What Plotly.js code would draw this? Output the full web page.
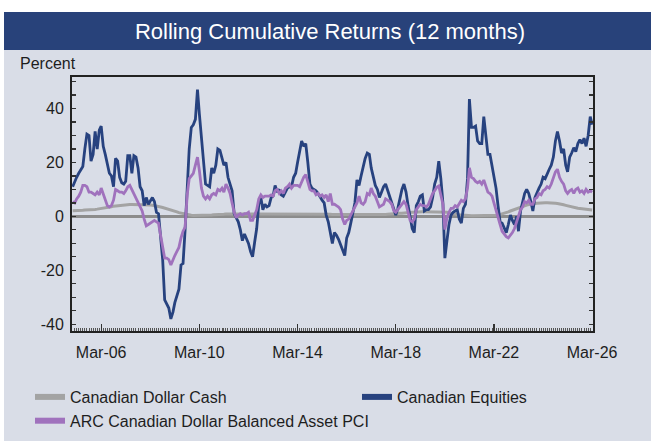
<!DOCTYPE html>
<html><head><meta charset="utf-8">
<script src="https://cdn.plot.ly/plotly-3.0.1.min.js"></script>
<style>html,body{margin:0;padding:0;background:#fff;}#chart{width:651px;height:441px;}</style>
</head><body><div id="chart"></div>
<script>
// Monthly observations, first value = Jan 2005, last = Mar 2026
const firstYear = 2005;
const seriesNames = ["Canadian Dollar Cash", "Canadian Equities", "ARC Canadian Dollar Balanced Asset PCI"];
const seriesColors = ["#a3a3a3", "#27427f", "#a072bd"];
const titleText = "Rolling Cumulative Returns (12 months)";
const yAxisLabel = "Percent";
const yTickValues = [-40, -20, 0, 20, 40];
const yTickLabels = ["-40", "-20", "0", "20", "40"];

const equities = [
  11, 13, 14.5, 16, 17.5, 18.5, 25, 30.5, 30, 20.5, 23, 31.5,
  25, 32, 33.5, 26, 23, 19, 16, 15, 11, 21.5, 20.5, 14.5,
  12.5, 12, 13, 22.5, 22.5, 16, 22.5, 22, 18, 11, 9.5, 4,
  7, 4.5, 6, 7, 5.5, 1.5, 1, -8, -16, -31, -32.5, -34,
  -38, -35.5, -32, -29, -27, -18, -17.5, -5, 10, 25, 33, 34,
  36, 47, 38, 29, 18, 12, 11.5, 11, 18, 16, 19, 25,
  24.5, 21, 19, 20, 14.5, 12, 9.5, 1, -0.5, -2, -5, -9,
  -6.5, -8.5, -10, -13, -15, -9.5, -4.5, 4.5, 7, 2.5, 4.5, 3.5,
  4, 7, 7.5, 11.5, 9, 10, 8, 7.5, 9, 10.5, 11, 11,
  14.5, 16, 20, 24, 28, 26, 27, 20, 12, 10.5, 10, 9.5,
  8.5, 7, 6, 5, 0.5, -2, -6, -10, -6, -7, -8.5, -10.5,
  -12, -14.5, -8, -6, -2.5, 1, 5, 13.5, 11.5, 15, 19, 21.5,
  23.5, 23, 18, 14, 11.5, 10, 7, 9, 11, 12, 9.5, 8,
  5, 2.5, 0.5, 3, 7, 10, 12, 9, 4, -1, -4.5, -6,
  4, 5.5, 7.5, 8, 2, 2.5, 2.5, 3.5, 7, 12, 14.5, 20.5,
  14, 5, -15.5, -9, -3, 0.5, 1.5, 2, 2.5, -1, -2.5, 3,
  4.5, 14, 43.5, 33, 33, 33.5, 28, 27, 27, 37, 29, 23,
  23, 19, 15, 10.5, 4, -2, -2.5, -4.5, -6, -3, 0.5, -1.5,
  -3, 0, -5.5, 2, 5, 8.5, 10, 8.5, 5.5, 2, 7, 9,
  10.5, 12, 14.5, 14, 16, 17.5, 19, 22, 28, 31.5, 28, 23.5,
  25, 19, 16.5, 22, 23.5, 25.5, 24, 27, 28.5, 27, 29, 26,
  30, 37, 34
];

const balanced = [
  5.5, 5, 6.5, 7.5, 9, 11.5, 11.5, 11, 9, 9, 8.5, 8,
  9, 8, 10.5, 8, 6, 4, 3.5, 4, 6, 10, 9.5, 9,
  9, 8.5, 9.5, 11, 11.5, 10, 8.5, 7, 5.5, 4, 2, -1,
  -3.5, -3, -2.5, -2, -1.5, -2, -2.5, -7, -12, -15.5, -15.5, -16,
  -18, -16, -14.5, -13, -11.5, -8, -5.5, -4, 8, 14, 15, 16,
  19, 22, 17, 10.5, 7.5, 6.5, 7.5, 6.5, 8, 8.5, 8, 10,
  9.5, 10.5, 9, 12, 10.5, 8.5, 5, 1.5, -0.5, 0.5, 1, 0.5,
  1, 1, 1.5, -1.5, -1.5, 0.5, 2.5, 6.5, 8, 7, 7.5, 7.5,
  7.5, 8, 7.5, 9.5, 10, 8.5, 9.5, 8.5, 10.5, 11, 12, 10.5,
  11.5, 11.5, 11.5, 11, 13, 14.5, 15.5, 13, 10, 9.5, 9.5, 8,
  8.5, 7.5, 8, 7, 8, 5.5, 8.5, 4.5, 4.5, 4, 3.5, 2.5,
  -1, -3, -1.5, -1, 0.5, 1.5, 3, 5, 7.5, 5, 4.5, 5.5,
  8.5, 8, 10.5, 8.5, 7.5, 5, 3.5, 4, 4.5, 6.5, 6, 5.5,
  4.5, 2, 1.5, 2.5, 3.5, 4.5, 5.5, 4.5, 1, -1.5, -2, -1,
  2.5, 3.5, 4.5, 4, 4, 3.5, 4.5, 6.5, 8.5, 9.5, 10.8, 11.3,
  8.2, 4.5, -4.9, -0.5, 1.5, 3, 3, 4, 3.5, 5, 6, 5.5,
  6.5, 10.5, 18, 14.5, 14, 13, 12.5, 13, 12, 13.5, 11, 9,
  8.5, 7.5, 5, 2, -1, -3, -5.5, -6.5, -7.5, -8, -7, -6,
  -4.5, -2, 0.5, 2.5, 3.5, 5.5, 5, 6, 4.5, 4.5, 6.5, 7,
  8.5, 8, 9.5, 10, 11, 10.5, 12, 14.5, 16.5, 17.5, 14.5, 13,
  12, 9.5, 8.5, 9.5, 10, 8.5, 10, 10.5, 9, 9.5, 8.5, 10,
  9, 9.5, 9
];

const cash = [
  2.1, 2.1, 2.2, 2.2, 2.3, 2.3, 2.4, 2.4, 2.5, 2.5, 2.6, 2.6,
  2.7, 2.8, 2.9, 3.0, 3.2, 3.3, 3.5, 3.6, 3.8, 3.9, 4.0, 4.1,
  4.2, 4.3, 4.3, 4.4, 4.4, 4.4, 4.4, 4.4, 4.4, 4.4, 4.4, 4.4,
  4.3, 4.3, 4.2, 4.1, 4.0, 3.9, 3.7, 3.5, 3.3, 3.1, 2.9, 2.7,
  2.5, 2.2, 2.0, 1.7, 1.4, 1.2, 1.0, 0.8, 0.6, 0.5, 0.4, 0.3,
  0.3, 0.3, 0.3, 0.3, 0.4, 0.4, 0.4, 0.5, 0.5, 0.6, 0.6, 0.7,
  0.7, 0.8, 0.8, 0.9, 0.9, 0.9, 1.0, 1.0, 1.0, 1.0, 1.0, 1.0,
  1.0, 1.0, 1.0, 1.0, 1.0, 1.0, 1.0, 1.0, 1.0, 1.0, 1.0, 1.0,
  1.0, 1.0, 1.0, 1.0, 1.0, 1.0, 1.0, 1.0, 1.0, 1.0, 1.0, 1.0,
  1.0, 1.0, 1.0, 1.0, 1.0, 1.0, 1.0, 1.0, 1.0, 1.0, 1.0, 1.0,
  1.0, 1.0, 0.9, 0.9, 0.9, 0.8, 0.8, 0.7, 0.7, 0.6, 0.6, 0.6,
  0.5, 0.5, 0.5, 0.5, 0.5, 0.5, 0.5, 0.5, 0.5, 0.5, 0.5, 0.5,
  0.5, 0.5, 0.5, 0.5, 0.5, 0.5, 0.6, 0.6, 0.7, 0.7, 0.8, 0.9,
  1.0, 1.0, 1.1, 1.1, 1.2, 1.2, 1.3, 1.3, 1.4, 1.4, 1.5, 1.5,
  1.6, 1.6, 1.6, 1.7, 1.7, 1.7, 1.7, 1.7, 1.7, 1.7, 1.7, 1.7,
  1.7, 1.7, 1.6, 1.5, 1.3, 1.1, 0.9, 0.8, 0.7, 0.6, 0.5, 0.4,
  0.3, 0.3, 0.2, 0.2, 0.2, 0.2, 0.2, 0.2, 0.2, 0.2, 0.2, 0.2,
  0.2, 0.2, 0.3, 0.4, 0.5, 0.7, 0.9, 1.1, 1.4, 1.7, 2.0, 2.3,
  2.6, 2.9, 3.2, 3.5, 3.8, 4.0, 4.2, 4.4, 4.6, 4.7, 4.8, 4.9,
  5.0, 5.0, 5.1, 5.1, 5.1, 5.1, 5.0, 5.0, 4.9, 4.8, 4.7, 4.5,
  4.3, 4.1, 3.9, 3.7, 3.5, 3.3, 3.1, 3.0, 2.9, 2.8, 2.7, 2.6,
  2.5, 2.5, 2.4
];

const dates = equities.map(function (_, i) {
  const y = firstYear + Math.floor(i / 12);
  const m = (i % 12) + 1;
  return y + "-" + (m < 10 ? "0" + m : m) + "-01";
});

// layout geometry (pixels)
const W = 651, H = 441;
const L = 72, R = 58, T = 77, B = 110;
const pw = W - L - R, ph = H - T - B;
function px(x) { return (x - L) / pw; }
function py(y) { return (H - B - y) / ph; }

const FONT = "Liberation Sans, Arial, sans-serif";
const TXT = "#1e1e1e";

const seriesData = [cash, equities, balanced];
const traces = [];
seriesData.forEach(function (vals, k) {
  traces.push({
    type: "scatter", mode: "lines", x: dates, y: vals, name: seriesNames[k],
    line: { color: seriesColors[k], width: k === 0 ? 3 : 2.8 },
    showlegend: false, hoverinfo: "x+y+name"
  });
});
// legend entries (thicker swatches)
[[0, "legend"], [2, "legend"], [1, "legend2"]].forEach(function (p) {
  traces.push({
    type: "scatter", mode: "lines", x: [null], y: [null], name: seriesNames[p[0]],
    line: { color: seriesColors[p[0]], width: 6 }, legend: p[1], showlegend: true, hoverinfo: "skip"
  });
});

const layout = {
  width: W, height: H,
  margin: { l: L, r: R, t: T, b: B, pad: 0, autoexpand: false },
  paper_bgcolor: "#d9dde7", plot_bgcolor: "#d9dde7",
  font: { family: FONT, size: 16, color: TXT },
  title: {
    text: titleText, font: { family: FONT, size: 22, color: "#ffffff" },
    xref: "container", x: 330 / W, xanchor: "center",
    yref: "container", y: 1 - 31 / H, yanchor: "middle"
  },
  xaxis: {
    type: "date", range: ["2004-12-22", "2026-03-14"],
    tick0: "2006-03-01", dtick: "M48", tickformat: "%b-%y",
    ticks: "inside", ticklen: 7, tickwidth: 1.2, tickcolor: "#333",
    minor: { dtick: "M1", tick0: "2005-01-01", ticks: "inside", ticklen: 3, tickwidth: 1, tickcolor: "#555" },
    showline: true, linecolor: "#222", linewidth: 2, mirror: true,
    showgrid: false, zeroline: false, ticklabelstandoff: 6,
    tickfont: { family: FONT, size: 16, color: TXT }, fixedrange: true
  },
  yaxis: {
    range: [-42.5, 51.7], tickmode: "array", tickvals: yTickValues, ticktext: yTickLabels,
    ticks: "inside", ticklen: 4, tickwidth: 1.2, tickcolor: "#333",
    minor: { dtick: 5, tick0: 0, ticks: "inside", ticklen: 4, tickwidth: 1.2, tickcolor: "#333" },
    showline: true, linecolor: "#222", linewidth: 2, mirror: "ticks",
    showgrid: false, zeroline: true, zerolinecolor: "#8c8c8c", zerolinewidth: 3,
    ticklabelstandoff: 3,
    tickfont: { family: FONT, size: 16, color: TXT }, fixedrange: true
  },
  legend: {
    x: px(30), xanchor: "left", y: py(380), yanchor: "top",
    orientation: "v", bgcolor: "rgba(0,0,0,0)", borderwidth: 0,
    font: { family: FONT, size: 16, color: TXT }, traceorder: "normal", itemwidth: 30
  },
  legend2: {
    x: px(357), xanchor: "left", y: py(380), yanchor: "top",
    orientation: "v", bgcolor: "rgba(0,0,0,0)", borderwidth: 0,
    font: { family: FONT, size: 16, color: TXT }, itemwidth: 30
  },
  shapes: [
    { type: "rect", xref: "paper", yref: "paper", x0: px(0), x1: px(W), y0: py(12), y1: py(0), fillcolor: "#ffffff", line: { width: 0 }, layer: "below" },
    { type: "rect", xref: "paper", yref: "paper", x0: px(0), x1: px(4), y0: py(H), y1: py(0), fillcolor: "#ffffff", line: { width: 0 }, layer: "below" },
    { type: "rect", xref: "paper", yref: "paper", x0: px(4), x1: px(W), y0: py(50), y1: py(12), fillcolor: "#28427a", line: { width: 0 }, layer: "below" }
  ],
  annotations: [
    { text: yAxisLabel, xref: "paper", yref: "paper", x: px(18), xanchor: "left", y: py(63), yanchor: "middle",
      showarrow: false, font: { family: FONT, size: 16, color: TXT } }
  ],
  showlegend: true
};

Plotly.newPlot("chart", traces, layout, { displayModeBar: false, staticPlot: true });
</script>
</body></html>
